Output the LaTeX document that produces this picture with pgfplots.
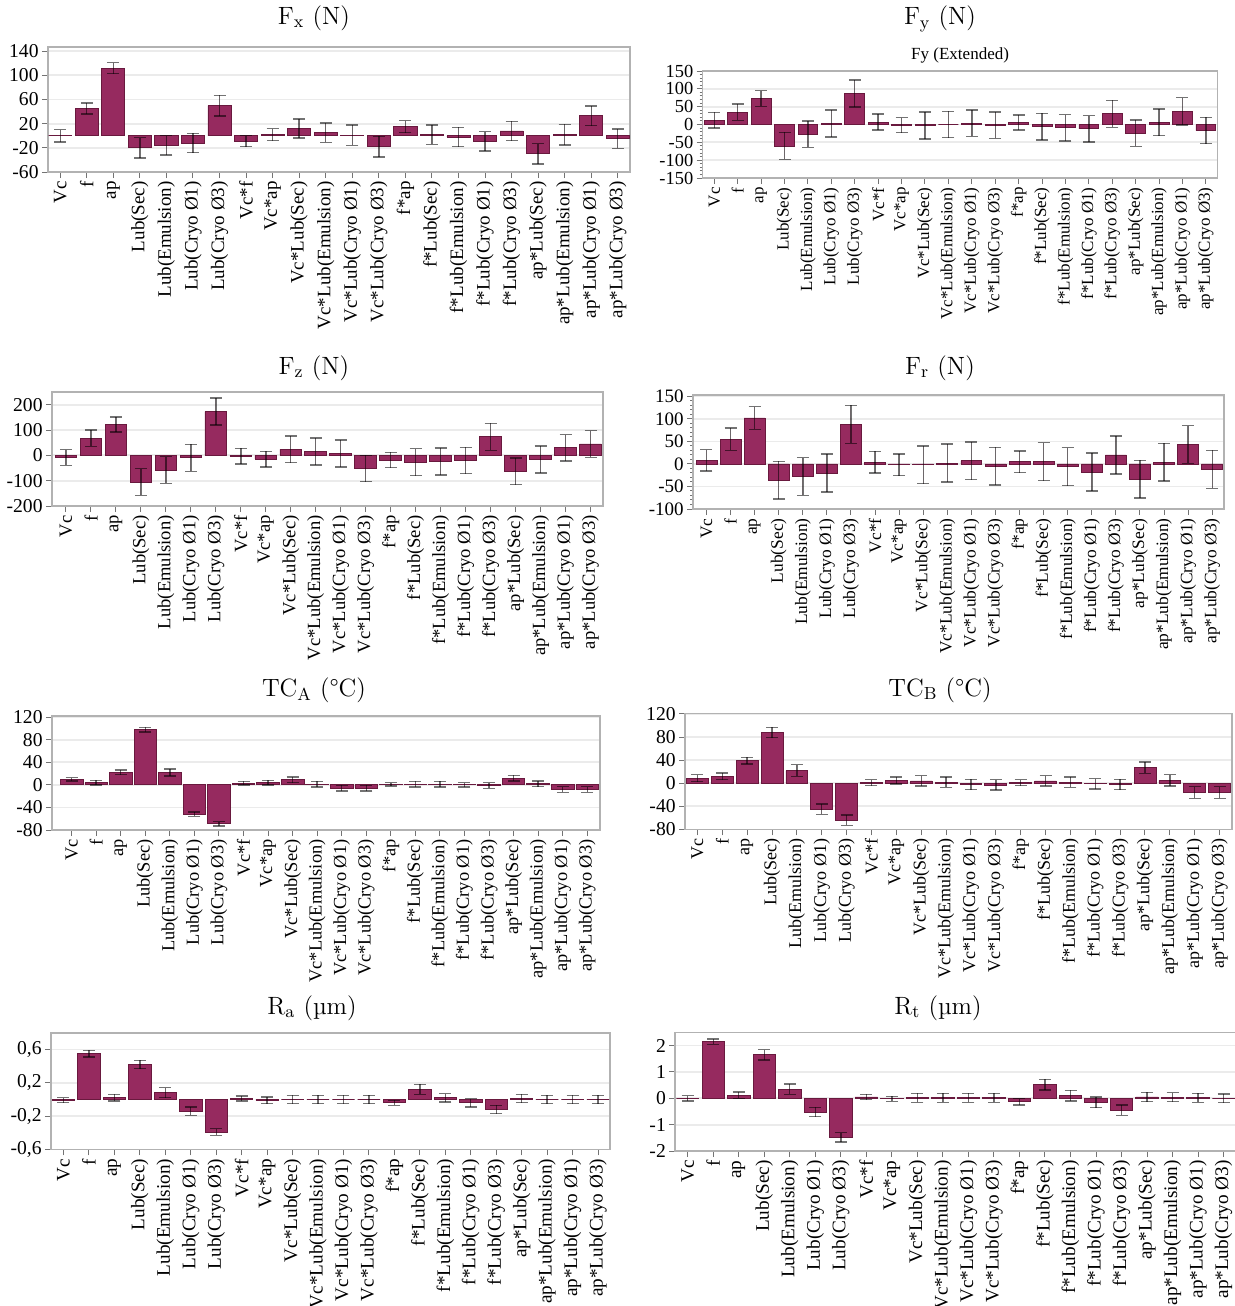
\documentclass[border=0pt]{standalone}
\usepackage{fontspec}
\usepackage{pgfplots}
\pgfplotsset{compat=1.18}
\usepackage{pgfplotstable}
\newfontfamily\tnr{Liberation Serif}
\definecolor{barfill}{RGB}{150,42,95}
\definecolor{baredge}{RGB}{105,25,62}

\pgfplotstableread{
x y e
0 0 10
1 45 9
2 112 9
3 -20 17
4 -16 16
5 -12 16
6 50 17
7 -9 9
8 2 10
9 12 16
10 5 16
11 1 17
12 -18 17
13 15 10
14 2 16
15 -2 16
16 -9 16
17 8 16
18 -30 17
19 2 17
20 33 16
21 -5 16
}\tFx
\pgfplotstableread{
x y e
0 12 22
1 35 23
2 73 22
3 -60 38
4 -27 37
5 3 38
6 87 38
7 7 22
8 -2 21
9 -3 38
10 0 37
11 4 37
12 -2 37
13 6 21
14 -6 37
15 -9 37
16 -12 37
17 30 38
18 -24 37
19 6 37
20 37 38
21 -17 37
}\tFy
\pgfplotstableread{
x y e
0 -8 31
1 68 32
2 122 30
3 -105 53
4 -58 53
5 -10 53
6 173 53
7 -3 31
8 -15 31
9 24 53
10 15 53
11 7 53
12 -52 52
13 -18 30
14 -27 53
15 -24 53
16 -20 52
17 73 53
18 -63 53
19 -16 53
20 30 52
21 45 53
}\tFz
\pgfplotstableread{
x y e
0 8 24
1 55 25
2 102 25
3 -36 42
4 -28 42
5 -20 42
6 88 42
7 4 24
8 -2 24
9 -2 42
10 2 42
11 7 42
12 -5 42
13 5 24
14 5 42
15 -6 42
16 -18 42
17 20 42
18 -34 42
19 4 42
20 43 42
21 -12 42
}\tFr
\pgfplotstableread{
x y e
0 10 3
1 4 4
2 22 4
3 98 4
4 22 6
5 -52 4
6 -69 4
7 3 3
8 4 4
9 9 5
10 1 5
11 -6 5
12 -6 5
13 1 3
14 1 5
15 1 5
16 0 4
17 -1 5
18 12 5
19 2 5
20 -8 5
21 -8 5
}\tTCA
\pgfplotstableread{
x y e
0 9 6
1 12 6
2 39 6
3 88 9
4 22 10
5 -45 9
6 -64 9
7 1 5
8 5 6
9 4 9
10 2 9
11 -2 9
12 -3 9
13 1 5
14 4 9
15 2 9
16 -1 9
17 -2 9
18 27 10
19 5 10
20 -16 10
21 -16 10
}\tTCB
\pgfplotstableread{
x y e
0 -0.01 0.03
1 0.55 0.04
2 0.02 0.04
3 0.42 0.05
4 0.08 0.06
5 -0.14 0.05
6 -0.39 0.04
7 0.01 0.03
8 -0.01 0.04
9 0.0 0.05
10 0.0 0.05
11 0.0 0.05
12 0.0 0.05
13 -0.04 0.03
14 0.12 0.06
15 0.02 0.05
16 -0.04 0.05
17 -0.12 0.05
18 0.01 0.05
19 0.0 0.05
20 0.0 0.05
21 0.0 0.05
}\tRa
\pgfplotstableread{
x y e
0 0 0.1
1 2.15 0.1
2 0.12 0.12
3 1.65 0.2
4 0.35 0.2
5 -0.52 0.18
6 -1.48 0.18
7 0.05 0.1
8 -0.02 0.1
9 0.02 0.17
10 0.02 0.17
11 0.02 0.17
12 0.02 0.17
13 -0.13 0.12
14 0.52 0.2
15 0.1 0.2
16 -0.15 0.2
17 -0.45 0.2
18 0.05 0.18
19 0.04 0.17
20 0.02 0.17
21 0.0 0.17
}\tRt

\pgfplotsset{
  eff/.style={
    scale only axis, ybar, bar width=0.87,
    xtick={0,...,21},
    xticklabels={Vc, f, ap, Lub(Sec), Lub(Emulsion), Lub(Cryo Ø1), Lub(Cryo Ø3), Vc*f, Vc*ap, Vc*Lub(Sec), Vc*Lub(Emulsion), Vc*Lub(Cryo Ø1), Vc*Lub(Cryo Ø3), f*ap, f*Lub(Sec), f*Lub(Emulsion), f*Lub(Cryo Ø1), f*Lub(Cryo Ø3), ap*Lub(Sec), ap*Lub(Emulsion), ap*Lub(Cryo Ø1), ap*Lub(Cryo Ø3)},
    tick align=outside, tick pos=left,
    major tick length=3pt, minor tick length=1.5pt,
    tick style={draw=black!55, line width=0.5pt},
    axis line style={draw=black!30, line width=0.8pt},
    ymajorgrids, major grid style={draw=black!8, line width=0.9pt},
    x tick label style={rotate=90, anchor=east, inner sep=1.5pt},
    y tick label style={inner sep=1.5pt},
  },
  effplot/.style={fill=barfill, draw=baredge, line width=0.4pt,
    error bars/y dir=both, error bars/y explicit,
    error bars/error bar style={draw=black, draw opacity=0.55, line width=0.7pt},
    error bars/error mark options={rotate=90, mark size=3pt, draw=black, draw opacity=0.55, line width=0.7pt}},
}
\newcommand\ttl{\fontsize{12.5}{14}\selectfont}

\begin{document}
\begin{tikzpicture}
\path[use as bounding box] (0,0) rectangle (617.5pt,-653pt);

% Fx
\begin{axis}[eff, at={(24pt,-86pt)}, anchor=south west, width=291pt, height=62.5pt,
  xmin=-0.46, xmax=21.46, ymin=-60, ymax=147,
  ytick={-60,-20,20,60,100,140}, yticklabels={-60,-20,20,60,100,140},
  x tick label style={font=\tnr\fontsize{9.5}{10}\selectfont},
  y tick label style={font=\tnr\fontsize{9.8}{10}\selectfont}]
\addplot[effplot] table[x=x,y=y,y error=e]{\tFx};
\end{axis}

% Fy
\begin{axis}[eff, at={(351.3pt,-89pt)}, anchor=south west, width=257.5pt, height=53.5pt,
  xmin=-0.5, xmax=21.5, ymin=-150, ymax=150, bar width=0.85,
  ytick={-150,-100,...,150}, yticklabels={-150,-100,-50,0,50,100,150}, minor y tick num=4,
  title={Fy (Extended)}, title style={font=\tnr\fontsize{8.5}{9}\selectfont, yshift=-5.5pt},
  x tick label style={font=\tnr\fontsize{8.5}{9}\selectfont},
  y tick label style={font=\tnr\fontsize{9.2}{10}\selectfont}]
\addplot[effplot] table[x=x,y=y,y error=e]{\tFy};
\end{axis}

% Fz
\begin{axis}[eff, at={(26pt,-253pt)}, anchor=south west, width=275.5pt, height=57pt,
  xmin=-0.56, xmax=21.5, ymin=-200, ymax=250,
  ytick={-200,-100,...,200}, yticklabels={-200,-100,0,100,200},
  x tick label style={font=\tnr\fontsize{9.3}{10}\selectfont},
  y tick label style={font=\tnr\fontsize{9.8}{10}\selectfont}]
\addplot[effplot] table[x=x,y=y,y error=e]{\tFz};
\end{axis}

% Fr
\begin{axis}[eff, at={(346.5pt,-254.5pt)}, anchor=south west, width=265.5pt, height=57pt,
  xmin=-0.56, xmax=21.49, ymin=-100, ymax=153,
  ytick={-100,-50,...,150}, yticklabels={-100,-50,0,50,100,150}, minor y tick num=4,
  x tick label style={font=\tnr\fontsize{8.7}{9}\selectfont},
  y tick label style={font=\tnr\fontsize{9.5}{10}\selectfont}]
\addplot[effplot] table[x=x,y=y,y error=e]{\tFr};
\end{axis}

% TCA
\begin{axis}[eff, at={(26pt,-415pt)}, anchor=south west, width=274pt, height=57pt,
  xmin=-0.8, xmax=21.52, ymin=-80, ymax=122, bar width=0.92,
  ytick={-80,-40,...,120}, yticklabels={-80,-40,0,40,80,120},
  x tick label style={font=\tnr\fontsize{9.2}{10}\selectfont},
  y tick label style={font=\tnr\fontsize{9.8}{10}\selectfont}]
\addplot[effplot] table[x=x,y=y,y error=e]{\tTCA};
\end{axis}

% TCB
\begin{axis}[eff, at={(342.5pt,-414.7pt)}, anchor=south west, width=273.5pt, height=58pt,
  xmin=-0.5, xmax=21.5, ymin=-80, ymax=121, bar width=0.88,
  ytick={-80,-40,...,120}, yticklabels={-80,-40,0,40,80,120},
  x tick label style={font=\tnr\fontsize{9}{10}\selectfont},
  y tick label style={font=\tnr\fontsize{9.8}{10}\selectfont}]
\addplot[effplot] table[x=x,y=y,y error=e]{\tTCB};
\end{axis}

% Ra
\begin{axis}[eff, at={(25.5pt,-574.7pt)}, anchor=south west, width=279.5pt, height=58.3pt,
  xmin=-0.49, xmax=21.47, ymin=-0.6, ymax=0.8, bar width=0.88,
  ytick={-0.6,-0.2,0.2,0.6}, yticklabels={{-0,6},{-0,2},{0,2},{0,6}},
  x tick label style={font=\tnr\fontsize{9.6}{10}\selectfont},
  y tick label style={font=\tnr\fontsize{9.8}{10}\selectfont}]
\addplot[effplot] table[x=x,y=y,y error=e]{\tRa};
\end{axis}

% Rt
\begin{axis}[eff, at={(337.6pt,-575.5pt)}, anchor=south west, width=282.5pt, height=59.3pt,
  xmin=-0.49, xmax=21.65, ymin=-2, ymax=2.5, bar width=0.88,
  ytick={-2,-1,...,2}, yticklabels={-2,-1,0,1,2},
  x tick label style={font=\tnr\fontsize{9.6}{10}\selectfont},
  y tick label style={font=\tnr\fontsize{9.8}{10}\selectfont}]
\addplot[effplot] table[x=x,y=y,y error=e]{\tRt};
\end{axis}

% panel titles
\node[font=\ttl] at (157pt,-9pt) {F\textsubscript{x} (N)};
\node[font=\ttl] at (470pt,-9.5pt) {F\textsubscript{y} (N)};
\node[font=\ttl] at (157pt,-184pt) {F\textsubscript{z} (N)};
\node[font=\ttl] at (470pt,-184pt) {F\textsubscript{r} (N)};
\node[font=\ttl] at (157pt,-345pt) {TC\textsubscript{A} (°C)};
\node[font=\ttl] at (470pt,-345pt) {TC\textsubscript{B} (°C)};
\node[font=\ttl] at (156pt,-504pt) {R\textsubscript{a} (µm)};
\node[font=\ttl] at (469pt,-504pt) {R\textsubscript{t} (µm)};
\end{tikzpicture}
\end{document}
